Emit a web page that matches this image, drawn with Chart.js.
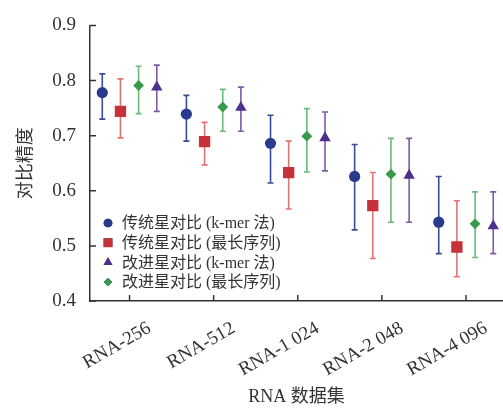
<!DOCTYPE html>
<html>
<head>
<meta charset="utf-8">
<script src="https://cdn.jsdelivr.net/npm/chart.js"></script>
<style>
  html, body { margin: 0; padding: 0; background: #fff; }
  #wrap { width: 503px; height: 408px; position: relative; }
</style>
</head>
<body>
<div id="wrap"><canvas id="chart"></canvas></div>
<script>
const categories = ['RNA-256', 'RNA-512', 'RNA-1 024', 'RNA-2 048', 'RNA-4 096'];
const yTicks = [0.4, 0.5, 0.6, 0.7, 0.8, 0.9];

// 传统星对比 (k-mer 法)
const tradKmer = [0.778, 0.739, 0.686, 0.626, 0.543];
const tradKmerLow = [0.730, 0.690, 0.614, 0.529, 0.486];
const tradKmerHigh = [0.812, 0.773, 0.737, 0.684, 0.626];
// 传统星对比 (最长序列)
const tradLong = [0.744, 0.689, 0.633, 0.573, 0.498];
const tradLongLow = [0.696, 0.647, 0.567, 0.477, 0.444];
const tradLongHigh = [0.803, 0.724, 0.690, 0.633, 0.582];
// 改进星对比 (最长序列)
const impLong = [0.791, 0.752, 0.699, 0.630, 0.540];
const impLongLow = [0.740, 0.708, 0.634, 0.543, 0.479];
const impLongHigh = [0.826, 0.784, 0.749, 0.695, 0.598];
// 改进星对比 (k-mer 法)
const impKmer = [0.788, 0.751, 0.696, 0.628, 0.536];
const impKmerLow = [0.744, 0.708, 0.636, 0.543, 0.486];
const impKmerHigh = [0.828, 0.788, 0.743, 0.695, 0.598];

const serif = "'Liberation Serif', 'Noto Sans CJK SC', serif";
const step = 0.216;

function makeSet(label, values, low, high, slot, color, barColor, style, radius) {
  return {
    label: label,
    data: values.map((v, i) => ({ x: i + slot * step, y: v, low: low[i], high: high[i] })),
    backgroundColor: color,
    borderColor: color,
    borderWidth: 0,
    pointStyle: style,
    pointRadius: radius,
    pointHoverRadius: radius,
    barColor: barColor
  };
}

const datasets = [
  makeSet('传统星对比 (k-mer 法)', tradKmer, tradKmerLow, tradKmerHigh, -1.5, '#2a3b8d', '#3b4c96', 'circle', 5.6),
  makeSet('传统星对比 (最长序列)', tradLong, tradLongLow, tradLongHigh, -0.5, '#c5323a', '#e27373', 'rect', 8),
  makeSet('改进星对比 (最长序列)', impLong, impLongLow, impLongHigh, 0.5, '#379a4b', '#6cb97c', 'rectRot', 5.4),
  makeSet('改进星对比 (k-mer 法)', impKmer, impKmerLow, impKmerHigh, 1.5, '#4f2f8e', '#7b5ca9', 'triangle', 6.6)
];
const legendOrder = [0, 1, 3, 2];

const errorBars = {
  id: 'errorBars',
  beforeDatasetsDraw(chart) {
    const ctx = chart.ctx;
    const y = chart.scales.y;
    chart.data.datasets.forEach((ds, di) => {
      const meta = chart.getDatasetMeta(di);
      ctx.save();
      ctx.strokeStyle = ds.barColor;
      ctx.lineWidth = 1.6;
      meta.data.forEach((pt, i) => {
        const d = ds.data[i];
        const yl = y.getPixelForValue(d.low);
        const yh = y.getPixelForValue(d.high);
        ctx.beginPath();
        ctx.moveTo(pt.x, yl); ctx.lineTo(pt.x, yh);
        ctx.moveTo(pt.x - 3, yl); ctx.lineTo(pt.x + 3, yl);
        ctx.moveTo(pt.x - 3, yh); ctx.lineTo(pt.x + 3, yh);
        ctx.stroke();
      });
      ctx.restore();
    });
  },
  afterDraw(chart) {
    const ctx = chart.ctx;
    const { x, y } = chart.scales;
    const area = chart.chartArea;
    // inward tick marks
    ctx.save();
    ctx.strokeStyle = '#333';
    ctx.lineWidth = 1.5;
    ctx.beginPath();
    yTicks.forEach(v => {
      const p = y.getPixelForValue(v);
      ctx.moveTo(area.left, p); ctx.lineTo(area.left + 6, p);
    });
    categories.forEach((c, i) => {
      const p = x.getPixelForValue(i);
      ctx.moveTo(p, area.bottom); ctx.lineTo(p, area.bottom - 6);
    });
    ctx.stroke();
    // legend inside the plot
    ctx.font = '16px ' + serif;
    ctx.textBaseline = 'middle';
    ctx.textAlign = 'left';
    legendOrder.forEach((di, row) => {
      const ds = chart.data.datasets[di];
      const cy = 223 + row * 19.7;
      Chart.helpers.drawPoint(ctx, {
        pointStyle: ds.pointStyle,
        radius: ds.pointRadius * 0.78,
        borderWidth: 0,
        rotation: 0
      }, 108, cy);
      ctx.fillStyle = ds.backgroundColor;
      ctx.fill();
      ctx.fillStyle = '#333';
      ctx.fillText(ds.label, 122, cy + 1);
    });
    ctx.restore();
  }
};

new Chart(document.getElementById('chart'), {
  type: 'scatter',
  data: { datasets: datasets },
  plugins: [errorBars],
  options: {
    responsive: true,
    maintainAspectRatio: false,
    animation: false,
    events: [],
    layout: { autoPadding: false, padding: { top: 22, right: 0, left: 0, bottom: 0 } },
    plugins: { legend: { display: false }, tooltip: { enabled: false } },
    scales: {
      x: {
        type: 'linear',
        min: -0.47,
        max: 4.44,
        afterBuildTicks: axis => { axis.ticks = categories.map((c, i) => ({ value: i })); },
        afterFit: axis => { axis.height = 107; },
        grid: { display: false, drawTicks: false },
        border: { display: true, color: '#333', width: 1.5 },
        ticks: {
          callback: v => categories[v],
          minRotation: 30,
          maxRotation: 30,
          autoSkip: false,
          labelOffset: 20,
          padding: 16,
          color: '#333',
          font: { family: serif, size: 19 }
        },
        title: {
          display: true,
          text: 'RNA 数据集',
          color: '#333',
          font: { family: serif, size: 18 },
          padding: { top: 0, bottom: 0 }
        }
      },
      y: {
        min: 0.4,
        max: 0.9,
        afterBuildTicks: axis => { axis.ticks = yTicks.map(v => ({ value: v })); },
        afterFit: axis => { axis.width = 90; },
        grid: { display: false, drawTicks: false },
        border: { display: true, color: '#333', width: 1.5 },
        ticks: {
          callback: v => v.toFixed(1),
          padding: 14,
          color: '#333',
          font: { family: serif, size: 19 }
        },
        title: {
          display: true,
          text: '对比精度',
          color: '#333',
          font: { family: serif, size: 18 },
          padding: { top: 15, bottom: 0 }
        }
      }
    }
  }
});
</script>
</body>
</html>
